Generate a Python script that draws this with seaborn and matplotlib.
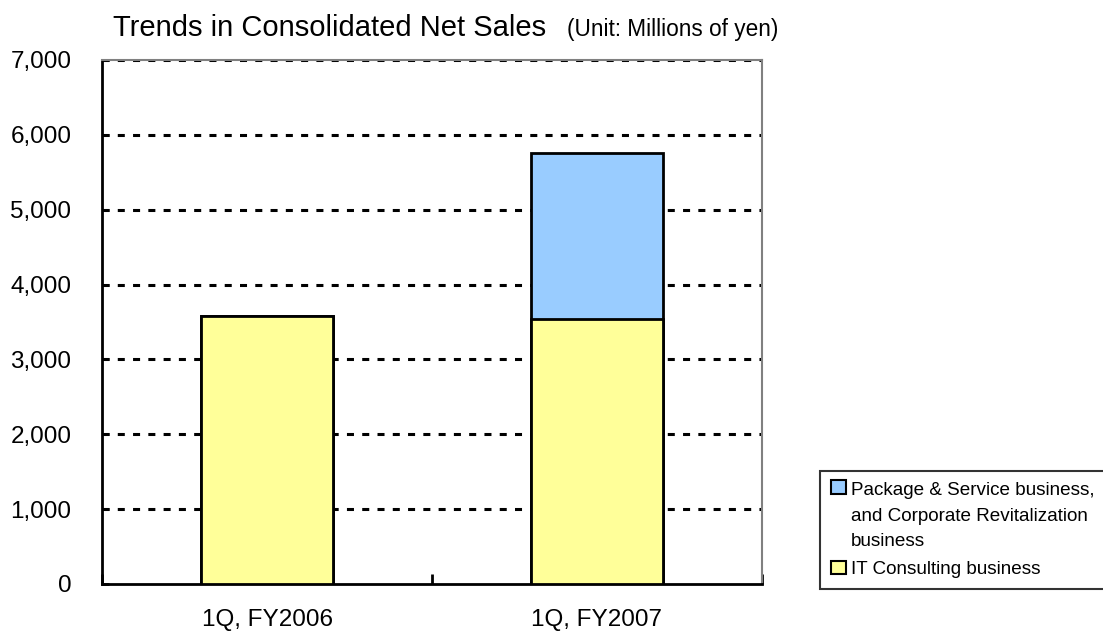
import matplotlib
matplotlib.use("Agg")
import matplotlib.pyplot as plt
import matplotlib.ticker as mticker
from matplotlib.patches import Patch, Rectangle
from matplotlib.legend_handler import HandlerPatch
import seaborn as sns
import pandas as pd

# Chart data (millions of yen)
quarters = ["1Q, FY2006", "1Q, FY2007"]
it_consulting = [3580, 3536]
package_service = [0, 2217]
y_ticks = [0, 1000, 2000, 3000, 4000, 5000, 6000, 7000]

series_names = ["Package & Service business,\nand Corporate Revitalization\nbusiness",
                "IT Consulting business"]
colors = ["#99CCFF", "#FFFF99"]

df = pd.DataFrame({"Quarter": quarters, "IT": it_consulting, "Package": package_service})
df["Total"] = df["IT"] + df["Package"]

sns.set_style("white")
plt.rcParams["font.family"] = ["Liberation Sans", "DejaVu Sans"]
plt.rcParams["text.color"] = "black"
plt.rcParams["xtick.color"] = "black"
plt.rcParams["ytick.color"] = "black"

fig = plt.figure(figsize=(11.03, 6.31), dpi=100)
ax = fig.add_axes([0.0925, 0.0745, 0.5983, 0.8305])

# stacked bars: total first, IT on top of it
sns.barplot(data=df, x="Quarter", y="Total", color=colors[0], width=0.4,
            edgecolor="black", linewidth=2, saturation=1, ax=ax, zorder=3)
sns.barplot(data=df, x="Quarter", y="IT", color=colors[1], width=0.4,
            edgecolor="black", linewidth=2, saturation=1, ax=ax, zorder=3)

ax.set_xlim(-0.5, 1.5)
ax.set_ylim(0, 7000)
ax.set_yticks(y_ticks)
ax.yaxis.set_major_formatter(mticker.StrMethodFormatter("{x:,.0f}"))
ax.set_xlabel("")
ax.set_ylabel("")

# dashed gridlines
for v in y_ticks[1:]:
    ax.axhline(v, color="black", linewidth=2.2, dashes=(2.3, 2.7), zorder=1)

for side in ["left", "bottom"]:
    ax.spines[side].set_color("black")
    ax.spines[side].set_linewidth(2)
for side in ["top", "right"]:
    ax.spines[side].set_color("#808080")
    ax.spines[side].set_linewidth(1.5)

ax.tick_params(axis="y", labelsize=17.5, length=5, width=2, direction="in", pad=22, left=True)
ax.tick_params(axis="x", which="major", labelsize=17.5, length=0, pad=18)
ax.set_xticks([-0.5, 0.5, 1.5], minor=True)
ax.tick_params(axis="x", which="minor", length=7, width=2, direction="in", bottom=True)

fig.text(113 / 1103, 1 - 36 / 631, "Trends in Consolidated Net Sales", fontsize=21, va="baseline")
fig.text(567 / 1103, 1 - 36 / 631, "(Unit: Millions of yen)", fontsize=16.3, va="baseline")

LINE_SP = 1.65


# legend handle pinned to the first text line
def top_box(legend, orig_handle, xdescent, ydescent, width, height, fontsize):
    shift = 0
    if orig_handle.get_facecolor()[2] > 0.9:
        shift = fontsize * LINE_SP * 0.95
    return Rectangle((-xdescent, -ydescent + shift), width, height)


handles = [Patch(facecolor=c, edgecolor="black", linewidth=1.5) for c in colors]
leg = fig.legend(handles, series_names, loc="upper left", bbox_to_anchor=(820 / 1103, 1 - 471 / 631),
                 frameon=True, fontsize=13.6,
                 handlelength=0.75, handleheight=0.75, handletextpad=0.3, labelspacing=0.55,
                 borderpad=0.6, borderaxespad=0, fancybox=False,
                 handler_map={Patch: HandlerPatch(patch_func=top_box)})
for t in leg.get_texts():
    t.set_linespacing(LINE_SP)
leg.get_frame().set_edgecolor("black")
leg.get_frame().set_linewidth(1.5)

fig.savefig("out.png", dpi=100)
